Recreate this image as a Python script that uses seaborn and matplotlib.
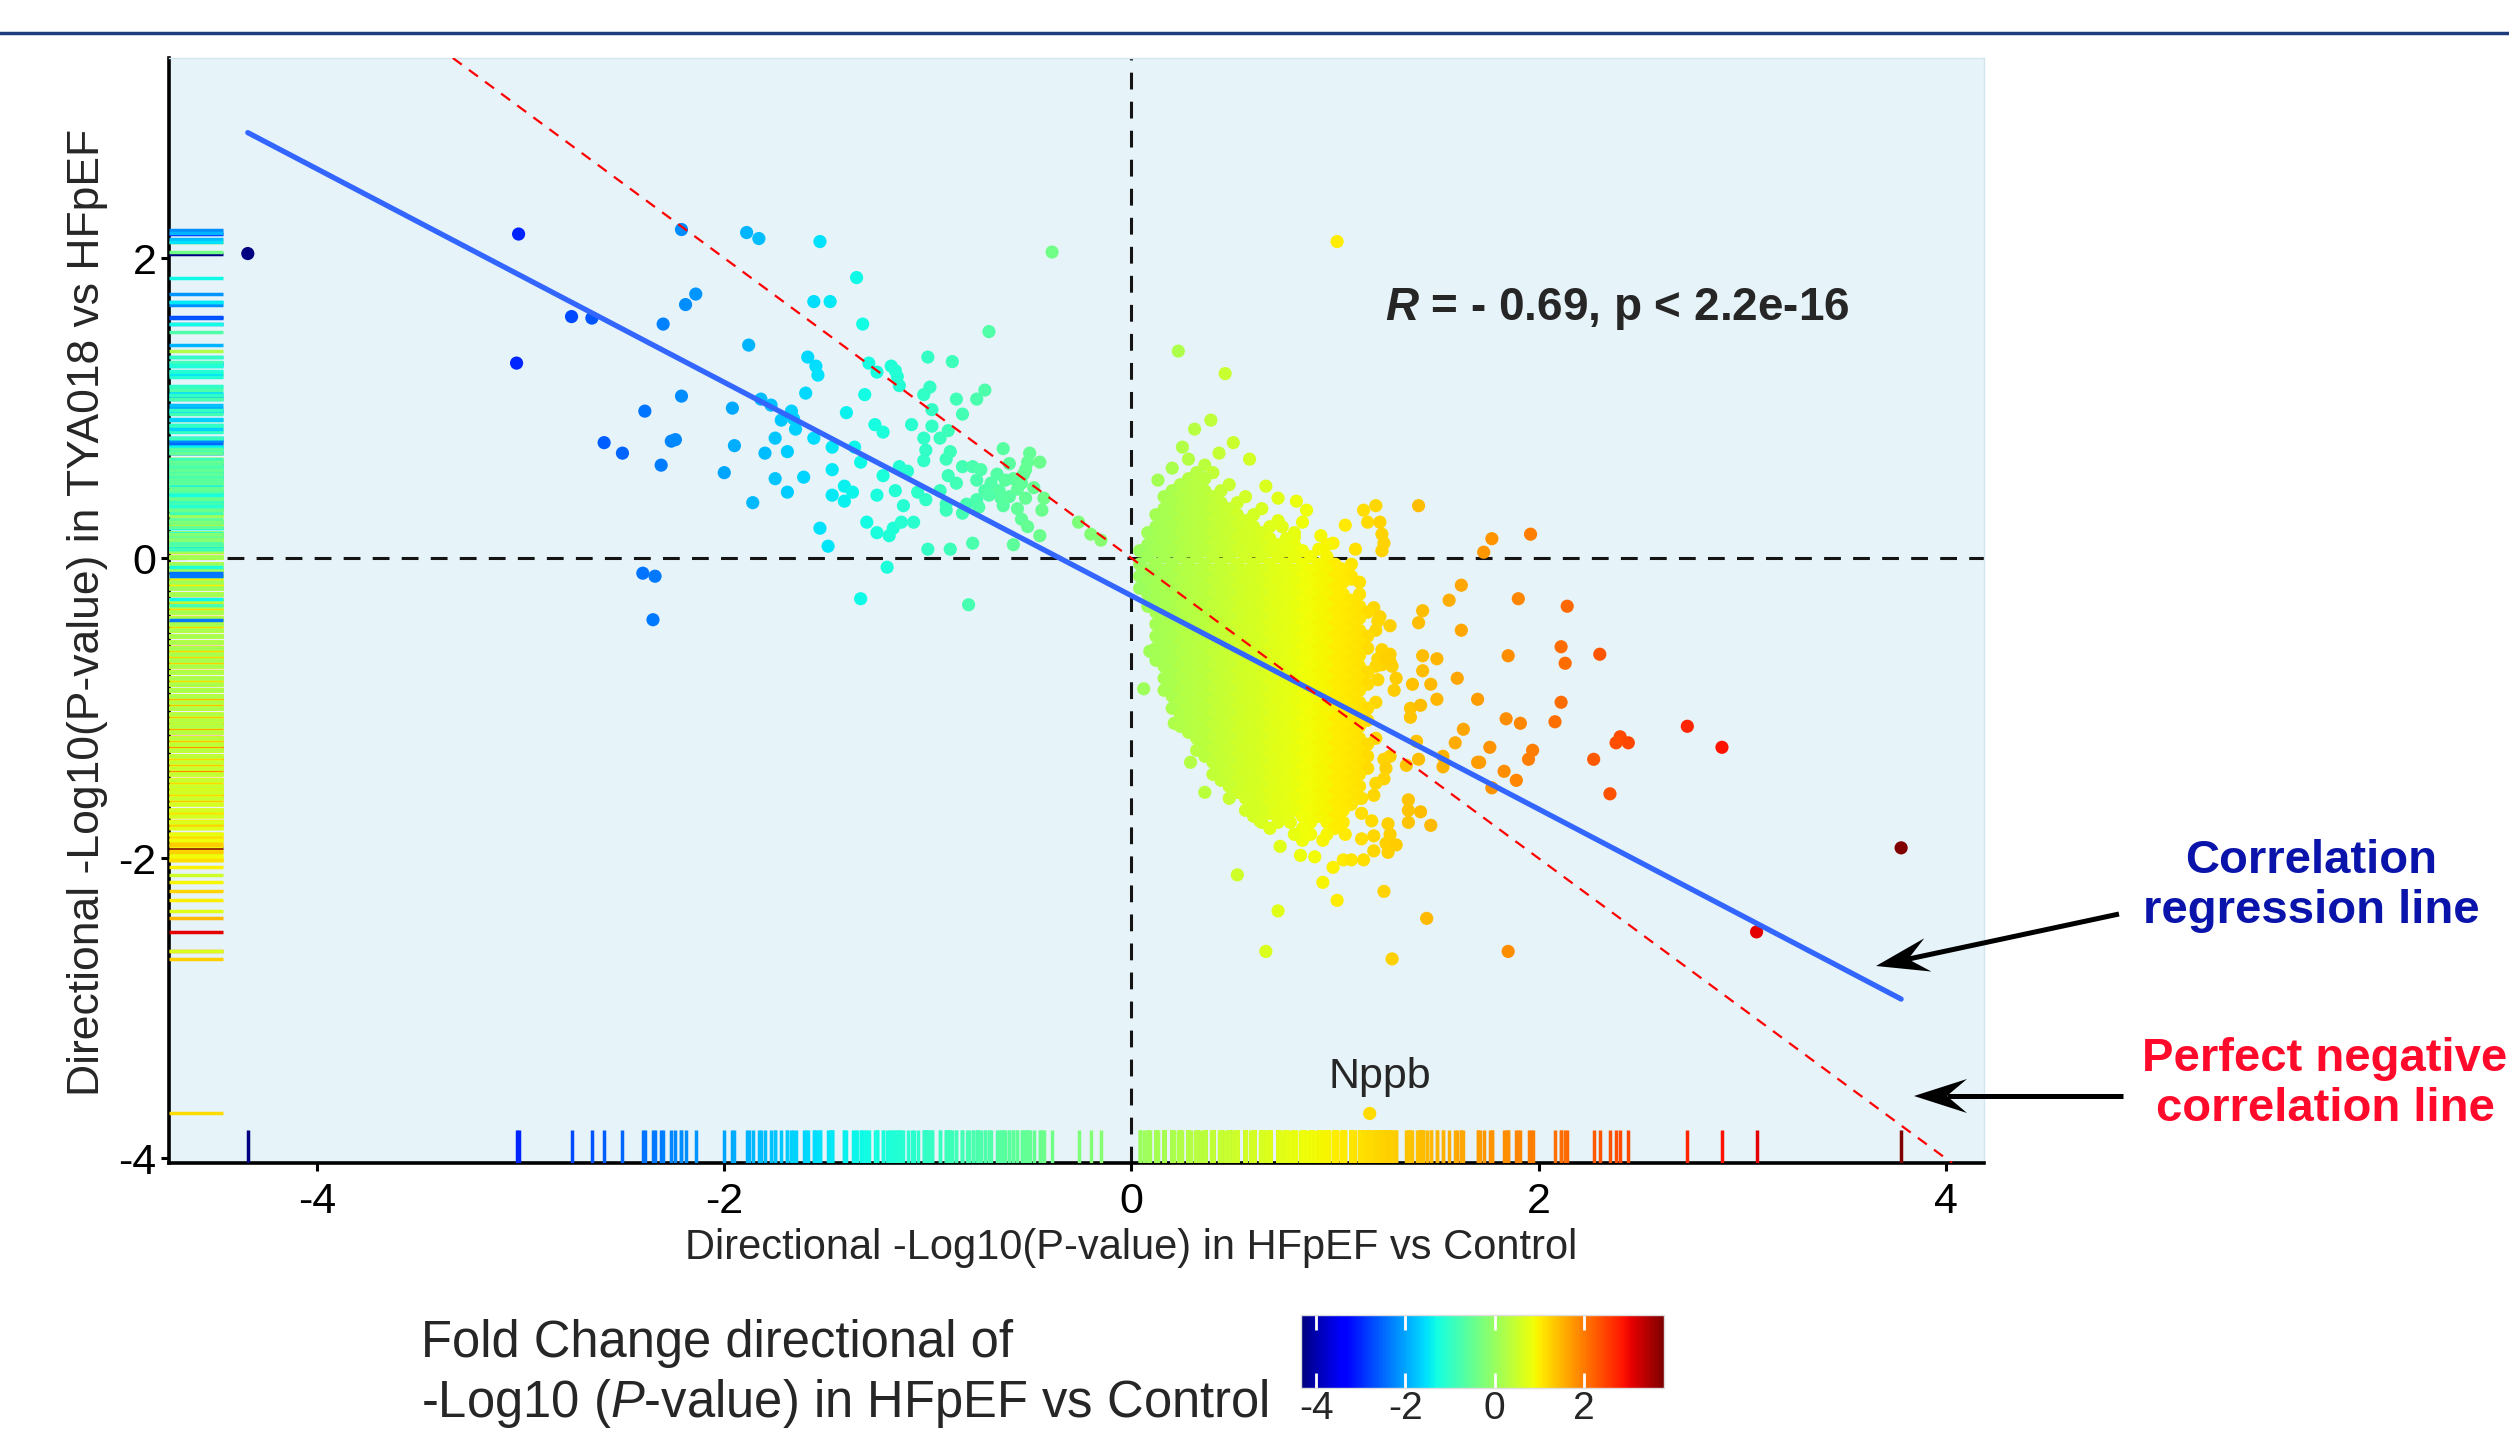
import matplotlib
matplotlib.use("Agg")
import matplotlib.pyplot as plt
import numpy as np
import pandas as pd
import seaborn as sns
from matplotlib.cm import ScalarMappable
from matplotlib.colors import Normalize
from matplotlib.lines import Line2D
from matplotlib.patches import Polygon

# ---- data ----
# genes down in HFpEF vs Control (left cluster)
left_x = [
    -4.34, -3.01, -3.02, -2.75, -2.65, -2.21, -2.14, -2.19, -2.30, -1.89,
    -1.83, -1.53, -0.39, -1.88, -1.56, -1.48, -1.35, -1.32, -0.70, -1.59,
    -1.55, -1.54, -1.29, -1.25, -1.18, -1.16, -1.15, -1.14, -1.00, -0.88,
    -2.21, -2.39, -1.96, -1.60, -1.31, -1.40, -1.82, -1.77, -1.67, -1.72,
    -1.66, -1.02, -0.99, -0.86, -0.76, -0.72, -0.83, -0.98, -2.59, -2.50,
    -2.26, -2.24, -2.31, -2.00, -1.95, -1.86, -1.75, -1.80, -1.69, -1.75,
    -1.69, -1.61, -1.56, -1.47, -1.47, -1.47, -1.41, -1.41, -1.37, -1.53,
    -1.49, -1.36, -1.33, -1.22, -1.16, -1.30, -1.25, -1.19, -1.17, -1.13,
    -1.07, -1.20, -1.33, -0.80, -2.40, -2.34, -2.35, -1.26, -1.22, -1.14,
    -1.10, -1.08, -1.02, -0.98, -0.94, -0.90, -1.01, -1.02, -0.91, -0.89,
    -0.90, -0.86, -0.83, -0.78, -0.76, -0.74, -0.69, -0.66, -0.63, -1.05,
    -1.01, -0.94, -0.91, -0.91, -0.83, -0.81, -0.76, -0.75, -0.72, -0.65,
    -0.64, -0.63, -0.60, -0.58, -0.56, -0.54, -0.53, -0.51, -0.52, -0.45,
    -0.56, -0.54, -0.52, -0.51, -0.45, -0.44, -0.43, -0.26, -0.58, -1.00,
    -0.89, -0.78, -0.48, -0.62, -0.70, -0.60, -1.12, -0.50, -1.65, -1.25,
    -0.20, -0.15,
]
left_y = [
    2.03, 2.16, 1.30, 1.61, 1.60, 2.19, 1.76, 1.69, 1.56, 2.17,
    2.13, 2.11, 2.04, 1.42, 1.71, 1.71, 1.87, 1.56, 1.51, 1.34,
    1.28, 1.22, 1.30, 1.24, 1.28, 1.25, 1.21, 1.15, 1.34, 1.31,
    1.08, 0.98, 1.00, 1.10, 1.09, 0.97, 1.06, 1.02, 0.98, 0.92,
    0.93, 1.09, 1.14, 1.06, 1.06, 1.12, 0.96, 0.99, 0.77, 0.70,
    0.78, 0.79, 0.62, 0.57, 0.75, 0.37, 0.80, 0.70, 0.71, 0.53,
    0.44, 0.54, 0.80, 0.74, 0.59, 0.42, 0.38, 0.48, 0.44, 0.20,
    0.08, 0.74, 0.64, 0.55, 0.45, 0.24, 0.17, 0.15, 0.20, 0.24,
    0.24, -0.06, -0.27, -0.31, -0.10, -0.12, -0.41, 0.89, 0.84, 0.61,
    0.58, 0.89, 0.80, 0.88, 0.80, 0.85, 0.72, 0.65, 0.66, 0.71,
    0.55, 0.50, 0.61, 0.61, 0.52, 0.59, 0.50, 0.56, 0.73, 0.44,
    0.39, 0.45, 0.36, 0.32, 0.30, 0.36, 0.39, 0.34, 0.45, 0.45,
    0.40, 0.35, 0.41, 0.53, 0.46, 0.50, 0.56, 0.64, 0.59, 0.64,
    0.33, 0.26, 0.40, 0.21, 0.15, 0.32, 0.40, 0.24, 0.09, 0.06,
    0.06, 0.10, 0.47, 0.52, 0.42, 0.63, 0.35, 0.70, 0.86, 0.42,
    0.16, 0.12,
]

# dense cloud of up-regulated genes, read row by row (y level -> x positions)
blob_row_y = [
    0.57, 0.53, 0.49, 0.45, 0.41, 0.37, 0.33, 0.29, 0.25, 0.21,
    0.17, 0.13, 0.09, 0.05, 0.01,
    -0.04, -0.08, -0.12, -0.16, -0.20, -0.24, -0.28, -0.32, -0.36, -0.40,
    -0.44, -0.48, -0.52, -0.56, -0.60, -0.64, -0.68, -0.72, -0.76, -0.80,
    -0.84, -0.88, -0.92, -0.96, -1.00, -1.04, -1.08, -1.12, -1.16, -1.20,
    -1.24, -1.28, -1.32, -1.36, -1.40, -1.44, -1.48, -1.52, -1.56, -1.60,
    -1.64, -1.68, -1.72, -1.76, -1.80, -1.84,
]
blob_row_x = [
    [0.32, 0.40],
    [0.28, 0.36],
    [0.24, 0.32, 0.48],
    [0.20, 0.28, 0.36, 0.44],
    [0.16, 0.24, 0.32, 0.40, 0.56],
    [0.20, 0.28, 0.36, 0.44, 0.52],
    [0.16, 0.24, 0.32, 0.40, 0.48, 0.64],
    [0.12, 0.20, 0.28, 0.36, 0.44, 0.52, 0.60],
    [0.16, 0.24, 0.32, 0.40, 0.48, 0.56, 0.72],
    [0.12, 0.20, 0.28, 0.36, 0.44, 0.52, 0.60, 0.68],
    [0.08, 0.16, 0.24, 0.32, 0.40, 0.48, 0.56, 0.64, 0.80],
    [0.12, 0.20, 0.28, 0.36, 0.44, 0.52, 0.60, 0.68, 0.76],
    [0.08, 0.16, 0.24, 0.32, 0.40, 0.48, 0.56, 0.64, 0.72, 0.80, 0.96],
    [0.04, 0.12, 0.20, 0.28, 0.36, 0.44, 0.52, 0.60, 0.68, 0.76, 0.84],
    [0.08, 0.16, 0.24, 0.32, 0.40, 0.48, 0.56, 0.64, 0.72, 0.80, 0.88, 0.96],
    [0.04, 0.12, 0.20, 0.28, 0.36, 0.44, 0.52, 0.60, 0.68, 0.76, 0.84, 0.92, 1.00, 1.08],
    [0.08, 0.16, 0.24, 0.32, 0.40, 0.48, 0.56, 0.64, 0.72, 0.80, 0.88, 0.96, 1.04],
    [0.04, 0.12, 0.20, 0.28, 0.36, 0.44, 0.52, 0.60, 0.68, 0.76, 0.84, 0.92, 1.00, 1.08],
    [0.08, 0.16, 0.24, 0.32, 0.40, 0.48, 0.56, 0.64, 0.72, 0.80, 0.88, 0.96, 1.04, 1.12],
    [0.04, 0.12, 0.20, 0.28, 0.36, 0.44, 0.52, 0.60, 0.68, 0.76, 0.84, 0.92, 1.00],
    [0.08, 0.16, 0.24, 0.32, 0.40, 0.48, 0.56, 0.64, 0.72, 0.80, 0.88, 0.96, 1.04, 1.12],
    [0.12, 0.20, 0.28, 0.36, 0.44, 0.52, 0.60, 0.68, 0.76, 0.84, 0.92, 1.00, 1.08],
    [0.08, 0.16, 0.24, 0.32, 0.40, 0.48, 0.56, 0.64, 0.72, 0.80, 0.88, 0.96, 1.04, 1.12],
    [0.12, 0.20, 0.28, 0.36, 0.44, 0.52, 0.60, 0.68, 0.76, 0.84, 0.92, 1.00, 1.08, 1.16],
    [0.16, 0.24, 0.32, 0.40, 0.48, 0.56, 0.64, 0.72, 0.80, 0.88, 0.96, 1.04, 1.12],
    [0.12, 0.20, 0.28, 0.36, 0.44, 0.52, 0.60, 0.68, 0.76, 0.84, 0.92, 1.00, 1.08],
    [0.16, 0.24, 0.32, 0.40, 0.48, 0.56, 0.64, 0.72, 0.80, 0.88, 0.96, 1.04, 1.12, 1.20],
    [0.12, 0.20, 0.28, 0.36, 0.44, 0.52, 0.60, 0.68, 0.76, 0.84, 0.92, 1.00, 1.08, 1.16],
    [0.16, 0.24, 0.32, 0.40, 0.48, 0.56, 0.64, 0.72, 0.80, 0.88, 0.96, 1.04, 1.12],
    [0.12, 0.20, 0.28, 0.36, 0.44, 0.52, 0.60, 0.68, 0.76, 0.84, 0.92, 1.00, 1.08, 1.16],
    [0.16, 0.24, 0.32, 0.40, 0.48, 0.56, 0.64, 0.72, 0.80, 0.88, 0.96, 1.04, 1.12],
    [0.12, 0.20, 0.28, 0.36, 0.44, 0.52, 0.60, 0.68, 0.76, 0.84, 0.92, 1.00, 1.08],
    [0.16, 0.24, 0.32, 0.40, 0.48, 0.56, 0.64, 0.72, 0.80, 0.88, 0.96, 1.04, 1.12, 1.20],
    [0.20, 0.28, 0.36, 0.44, 0.52, 0.60, 0.68, 0.76, 0.84, 0.92, 1.00, 1.08, 1.16],
    [0.16, 0.24, 0.32, 0.40, 0.48, 0.56, 0.64, 0.72, 0.80, 0.88, 0.96, 1.04, 1.12],
    [0.20, 0.28, 0.36, 0.44, 0.52, 0.60, 0.68, 0.76, 0.84, 0.92, 1.00, 1.08, 1.16],
    [0.16, 0.24, 0.32, 0.40, 0.48, 0.56, 0.64, 0.72, 0.80, 0.88, 0.96, 1.04, 1.12],
    [0.20, 0.28, 0.36, 0.44, 0.52, 0.60, 0.68, 0.76, 0.84, 0.92, 1.00, 1.08],
    [0.24, 0.32, 0.40, 0.48, 0.56, 0.64, 0.72, 0.80, 0.88, 0.96, 1.04, 1.12, 1.20],
    [0.20, 0.28, 0.36, 0.44, 0.52, 0.60, 0.68, 0.76, 0.84, 0.92, 1.00, 1.08, 1.16],
    [0.24, 0.32, 0.40, 0.48, 0.56, 0.64, 0.72, 0.80, 0.88, 0.96, 1.04, 1.12],
    [0.28, 0.36, 0.44, 0.52, 0.60, 0.68, 0.76, 0.84, 0.92, 1.00, 1.08, 1.16],
    [0.24, 0.32, 0.40, 0.48, 0.56, 0.64, 0.72, 0.80, 0.88, 0.96, 1.04, 1.12],
    [0.28, 0.36, 0.44, 0.52, 0.60, 0.68, 0.76, 0.84, 0.92, 1.00, 1.08],
    [0.32, 0.40, 0.48, 0.56, 0.64, 0.72, 0.80, 0.88, 0.96, 1.04, 1.12, 1.20],
    [0.36, 0.44, 0.52, 0.60, 0.68, 0.76, 0.84, 0.92, 1.00, 1.08, 1.16],
    [0.32, 0.40, 0.48, 0.56, 0.64, 0.72, 0.80, 0.88, 0.96, 1.04, 1.12],
    [0.36, 0.44, 0.52, 0.60, 0.68, 0.76, 0.84, 0.92, 1.00, 1.08, 1.16],
    [0.40, 0.48, 0.56, 0.64, 0.72, 0.80, 0.88, 0.96, 1.04, 1.12],
    [0.44, 0.52, 0.60, 0.68, 0.76, 0.84, 0.92, 1.00, 1.08, 1.16],
    [0.40, 0.48, 0.56, 0.64, 0.72, 0.80, 0.88, 0.96, 1.04, 1.12],
    [0.44, 0.52, 0.60, 0.68, 0.76, 0.84, 0.92, 1.00, 1.08],
    [0.48, 0.56, 0.64, 0.72, 0.80, 0.88, 0.96, 1.04, 1.12],
    [0.52, 0.60, 0.68, 0.76, 0.84, 0.92, 1.00, 1.08],
    [0.48, 0.56, 0.64, 0.72, 0.80, 0.88, 0.96, 1.04, 1.12],
    [0.60, 0.68, 0.76, 0.84, 0.92, 1.00, 1.08],
    [0.56, 0.64, 0.72, 0.80, 0.88, 0.96, 1.04],
    [0.60, 0.76, 0.84, 0.92, 1.00],
    [0.64, 0.72, 0.88, 0.96, 1.04],
    [0.68, 0.84, 1.00],
    [0.80, 0.96],
]

# scattered genes on the up-regulated side
right_x = [
    1.01, 0.23, 0.46, 0.31, 0.28, 0.36, 0.43, 0.50, 0.25, 0.39,
    0.20, 0.58, 0.66, 0.72, 0.13, 1.41, 1.77, 1.96, 1.73, 1.20,
    1.14, 1.16, 1.22, 1.23, 1.24, 1.23, 1.10, 1.05, 0.99, 0.93,
    0.92, 0.86, 0.84, 0.80, 0.74, 0.81, 1.62, 1.56, 1.90, 2.14,
    1.43, 1.41, 1.62, 2.11, 2.30, 1.85, 2.13, 1.50, 1.43, 1.43,
    1.60, 1.70, 2.11, 1.84, 1.91, 2.08, 2.73, 2.40, 2.38, 2.44,
    2.90, 2.27, 1.97, 1.95, 1.76, 1.71, 1.70, 1.83, 1.89, 1.77,
    1.63, 1.59, 1.53, 1.53, 1.41, 1.35, 2.35, 3.07, 3.78, 1.45,
    1.85, 1.28, 1.24, 1.01, 0.94, 0.72, 0.66, 0.52, 0.73, 0.83,
    0.90, 0.99, 1.04, 1.08, 1.14, 1.19, 1.26, 1.36, 1.36, 1.42,
    1.36, 1.47, 1.26, 1.27, 1.25, 1.19, 1.13, 1.05, 0.94, 0.88,
    0.84, 0.60, 0.63, 0.68, 0.78, 0.50, 0.36, 0.29, 0.06, 0.09,
    0.34, 0.21, 1.27, 1.29, 1.38, 1.47, 1.50, 1.37, 1.42, 1.37,
    1.40, 1.27, 1.24, 1.25, 1.24, 1.20, 1.19, 1.13, 1.13, 1.18,
    1.30, 1.21, 1.23, 1.27, 1.28, 1.30, 1.21, 1.19, 1.22, 1.21,
    1.27, 1.14, 1.12, 1.23, 1.25, 1.10, 1.08, 1.03, 0.97, 1.01,
]
right_y = [
    2.11, 1.38, 1.23, 0.86, 0.66, 0.62, 0.70, 0.77, 0.74, 0.92,
    0.60, 0.66, 0.48, 0.40, 0.52, 0.35, 0.13, 0.16, 0.04, 0.35,
    0.32, 0.24, 0.24, 0.16, 0.10, 0.05, 0.06, 0.22, 0.10, 0.15,
    0.06, 0.32, 0.24, 0.14, 0.21, 0.38, -0.18, -0.28, -0.27, -0.32,
    -0.35, -0.43, -0.48, -0.59, -0.64, -0.65, -0.70, -0.67, -0.65, -0.75,
    -0.80, -0.94, -0.96, -1.07, -1.10, -1.09, -1.12, -1.19, -1.23, -1.23,
    -1.26, -1.34, -1.28, -1.34, -1.26, -1.36, -1.36, -1.42, -1.48, -1.53,
    -1.14, -1.23, -1.32, -1.39, -1.34, -1.38, -1.57, -2.49, -1.93, -2.40,
    -2.62, -2.67, -2.22, -2.28, -2.16, -2.35, -2.62, -2.11, -1.92, -1.98,
    -1.99, -2.06, -2.01, -2.01, -2.01, -1.95, -1.96, -1.61, -1.68, -1.69,
    -1.76, -1.78, -1.77, -1.84, -1.90, -1.85, -1.87, -1.84, -1.88, -1.84,
    -1.88, -1.69, -1.75, -1.70, -1.76, -1.54, -1.56, -1.36, -0.87, -0.62,
    -1.20, -1.10, -0.69, -0.88, -0.84, -0.84, -0.94, -1.00, -0.98, -1.06,
    -1.22, -1.32, -1.34, -1.40, -1.47, -1.50, -1.58, -1.60, -1.70, -1.75,
    -1.91, -0.67, -0.71, -0.64, -0.72, -0.80, -0.81, -0.33, -0.39, -0.42,
    -0.45, -0.60, -0.65, -0.61, -0.66, -0.30, -0.14, -0.07, -0.06, -0.18,
]

label_gene = "Nppb"
label_x = 1.17
label_y = -3.70

# fitted regression line as shown
reg_slope = -0.711
reg_intercept = -0.25
stat_label = r"$\mathbf{R}$ = - 0.69, p < 2.2e-16"

color_min, color_max = -4.34, 3.79
x_ticks = [-4, -2, 0, 2, 4]
y_ticks = [-4, -2, 0, 2]
cbar_ticks = [-4, -2, 0, 2]

x_title = "Directional -Log10(P-value) in HFpEF vs Control"
y_title = "Directional -Log10(P-value) in TYA018 vs HFpEF"
legend_line1 = "Fold Change directional of"
legend_line2 = r"-Log10 ($\mathit{P}$-value) in HFpEF vs Control"
reg_note = "Correlation\nregression line"
perfect_note = "Perfect negative\ncorrelation line"

# ---- assemble (drawing order: scattered, dense cloud high->low x, left cluster) ----
blob_x = [x for row in blob_row_x for x in sorted(row, reverse=True)]
blob_y = [y for y, row in zip(blob_row_y, blob_row_x) for _ in row]
df = pd.DataFrame({
    "x": right_x + blob_x + left_x + [label_x],
    "y": right_y + blob_y + left_y + [label_y],
})

W, H = 2509, 1440
sns.set_theme(style="ticks")
plt.rcParams["font.family"] = ["Liberation Sans", "DejaVu Sans"]
plt.rcParams["axes.unicode_minus"] = False
plt.rcParams["mathtext.fontset"] = "custom"
plt.rcParams["mathtext.rm"] = "Liberation Sans"
plt.rcParams["mathtext.it"] = "Liberation Sans:italic"
plt.rcParams["mathtext.bf"] = "Liberation Sans:bold:italic"

jet = matplotlib.colormaps["jet"]
norm = Normalize(color_min, color_max)

fig = plt.figure(figsize=(W / 100, H / 100), dpi=100)
ax = fig.add_axes([169 / W, 1 - 1163 / H, 1815 / W, 1105 / H])
ax.set_facecolor("#E6F3F9")

ax.axhline(0, color="#141414", lw=2.2, ls=(0, (5.5, 4)), zorder=1)
ax.axvline(0, color="#141414", lw=2.2, ls=(0, (5.5, 4)), zorder=1)

sns.scatterplot(data=df, x="x", y="y", hue="x", palette=jet, hue_norm=norm,
                s=90, linewidth=0, legend=False, ax=ax, zorder=2)
sns.rugplot(data=df, x="x", hue="x", palette=jet, hue_norm=norm, height=0.03,
            linewidth=2.5, legend=False, expand_margins=False, ax=ax, zorder=3)
sns.rugplot(data=df, y="y", hue="x", palette=jet, hue_norm=norm, height=0.03,
            linewidth=2.5, legend=False, expand_margins=False, ax=ax, zorder=3)

line_x = np.array([df["x"].min(), df["x"].max()])
sns.lineplot(x=line_x, y=reg_intercept + reg_slope * line_x, color="#3366FF",
             lw=3.8, ax=ax, zorder=4)
ax.axline((0, 0), slope=-1, color="red", lw=1.6, ls=(0, (5, 4)), zorder=5)

ax.text(1.243, 1.66, stat_label, fontsize=33, fontweight="bold",
        ha="left", va="center", zorder=6)
ax.text(1.22, -3.53, label_gene, fontsize=31, ha="center", va="baseline", zorder=6)

ax.set_xlim(-4.727, 4.187)
ax.set_ylim(-4.03, 3.333)
ax.set_xticks(x_ticks)
ax.set_xticklabels([str(t) for t in x_ticks])
ax.set_yticks(y_ticks)
ax.set_yticklabels([str(t) for t in y_ticks])
ax.tick_params(axis="both", length=6, width=2.2, color="black",
               labelsize=31, labelcolor="black")
ax.tick_params(axis="x", pad=8)
ax.tick_params(axis="y", pad=3)
ax.set_xlabel("")
ax.set_ylabel("")
for side in ["left", "bottom"]:
    ax.spines[side].set_color("black")
    ax.spines[side].set_linewidth(2.6)
for side in ["top", "right"]:
    ax.spines[side].set_visible(True)
    ax.spines[side].set_color("#D3E6EF")
    ax.spines[side].set_linewidth(1)

fig.text(1131 / W, 1 - 1248 / H, x_title, fontsize=30, ha="center", va="center")
fig.text(88 / W, 1 - 612 / H, y_title, fontsize=32, rotation=90,
         ha="center", va="center")

# header rule
fig.add_artist(Line2D([0, 1], [1 - 33 / H, 1 - 33 / H], transform=fig.transFigure,
                      color="#1F3C7C", lw=2.5))

# colour legend
fig.text(421 / W, 1 - 1344 / H, legend_line1, fontsize=36.5, ha="left", va="center")
fig.text(421 / W, 1 - 1403 / H, legend_line2, fontsize=36.5, ha="left", va="center")
cax = fig.add_axes([1301 / W, 1 - 1388 / H, 363 / W, 73 / H])
cb = fig.colorbar(ScalarMappable(norm=norm, cmap=jet), cax=cax,
                  orientation="horizontal", ticks=cbar_ticks)
cb.set_ticklabels([str(t) for t in cbar_ticks])
cb.outline.set_edgecolor("#DDDDDD")
cb.outline.set_linewidth(1)
cax.tick_params(length=0, labelsize=28, pad=2)
tr = cax.get_xaxis_transform()
cax.vlines(cbar_ticks, 0, 0.2, color="white", lw=2, transform=tr)
cax.vlines(cbar_ticks, 0.8, 1, color="white", lw=2, transform=tr)
cax.set_xlim(color_min, color_max)

# side notes with arrows
fig.text(2311 / W, 1 - 886 / H, reg_note, fontsize=34, fontweight="bold",
         color="#0A14AA", ha="center", va="center", multialignment="center")
fig.text(2325 / W, 1 - 1084 / H, perfect_note, fontsize=34, fontweight="bold",
         color="#FF0A2A", ha="center", va="center", multialignment="center")


def draw_arrow(tail, tip, lw=3.6, head_len=53, head_half=17):
    tail = np.array(tail, float)
    tip = np.array(tip, float)
    u = (tip - tail) / np.linalg.norm(tip - tail)
    n = np.array([-u[1], u[0]])
    notch = tip - 0.62 * head_len * u
    pts = [tip, tip - head_len * u + head_half * n, notch,
           tip - head_len * u - head_half * n]
    fig.add_artist(Line2D([tail[0] / W, notch[0] / W], [1 - tail[1] / H, 1 - notch[1] / H],
                          transform=fig.transFigure, color="black", lw=lw,
                          solid_capstyle="butt"))
    fig.add_artist(Polygon([(p[0] / W, 1 - p[1] / H) for p in pts], closed=True,
                           transform=fig.transFigure, facecolor="black",
                           edgecolor="none"))


draw_arrow((2119, 914), (1876, 966))
draw_arrow((2123, 1096), (1914, 1096))

fig.savefig("out.png", dpi=100)
